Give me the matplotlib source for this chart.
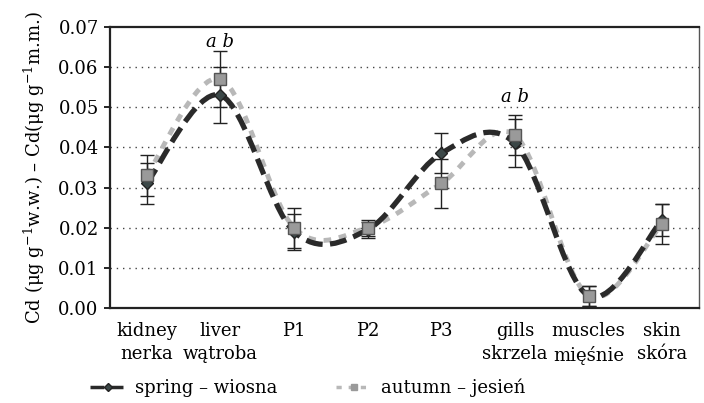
import matplotlib
matplotlib.use("Agg")
import matplotlib.pyplot as plt
from matplotlib.path import Path
from matplotlib.patches import PathPatch
from matplotlib.lines import Line2D
import numpy as np

plt.rcParams["font.family"] = ["DejaVu Serif"]
plt.rcParams["mathtext.fontset"] = "dejavuserif"

categories = ["kidney\nnerka", "liver\nwątroba", "P1", "P2", "P3",
              "gills\nskrzela", "muscles\nmięśnie", "skin\nskóra"]
spring = [0.031, 0.053, 0.019, 0.0195, 0.0385, 0.041, 0.003, 0.022]
spring_err = [0.005, 0.007, 0.0045, 0.002, 0.005, 0.006, 0.0025, 0.004]
autumn = [0.033, 0.057, 0.020, 0.020, 0.031, 0.043, 0.003, 0.021]
autumn_err = [0.005, 0.007, 0.005, 0.002, 0.006, 0.005, 0.0025, 0.005]
annot_idx = [1, 5]
annot_y = [0.0663, 0.0525]


def smooth_path(x, y):
    """Excel-like smoothed line as cubic Bezier segments."""
    pts = np.column_stack([x, y]).astype(float)
    n = len(pts)
    verts = [pts[0]]
    codes = [Path.MOVETO]
    for i in range(n - 1):
        p_prev = pts[i - 1] if i > 0 else pts[i]
        p_next2 = pts[i + 2] if i + 2 < n else pts[i + 1]
        c1 = pts[i] + (pts[i + 1] - p_prev) / 6.0
        c2 = pts[i + 1] - (p_next2 - pts[i]) / 6.0
        verts += [c1, c2, pts[i + 1]]
        codes += [Path.CURVE4] * 3
    return Path(verts, codes)


x = np.arange(len(categories))
fig = plt.figure(figsize=(7.04, 4.03), dpi=100)
ax = fig.add_axes([0.156, 0.236, 0.837, 0.697])

for yv in np.arange(0.01, 0.065, 0.01):
    ax.axhline(yv, color="#444444", linestyle=(0, (1, 3.5)), linewidth=1.0, zorder=0)

spring_color = "#2a2a2a"
autumn_color = "#b8b8b8"

ax.add_patch(PathPatch(smooth_path(x, autumn), fill=False, edgecolor=autumn_color,
                       linewidth=3.5, linestyle=(0, (1.6, 1.6)), zorder=2))
ax.add_patch(PathPatch(smooth_path(x, spring), fill=False, edgecolor=spring_color,
                       linewidth=3.8, linestyle=(0, (3.2, 1.4)), zorder=3))

ax.errorbar(x, spring, yerr=spring_err, fmt="none", ecolor="#222222",
            elinewidth=1.0, capsize=5, capthick=1.0, zorder=4)
ax.errorbar(x, autumn, yerr=autumn_err, fmt="none", ecolor="#222222",
            elinewidth=1.0, capsize=5, capthick=1.0, zorder=4)
ax.plot(x, spring, linestyle="none", marker="D", markersize=6.5,
        markerfacecolor="#3b4747", markeredgecolor="#222222", zorder=5)
ax.plot(x, autumn, linestyle="none", marker="s", markersize=8,
        markerfacecolor="#9a9a9a", markeredgecolor="#555555", zorder=6)

for i, yv in zip(annot_idx, annot_y):
    ax.text(x[i], yv, "a b", style="italic", fontsize=13, ha="center", va="center")

ax.set_xlim(-0.5, len(categories) - 0.5)
ax.set_ylim(0, 0.07)
ax.set_yticks(np.arange(0, 0.071, 0.01))
ax.set_yticklabels([f"{v:.2f}" for v in np.arange(0, 0.071, 0.01)], fontsize=13)
ax.set_xticks(x)
ax.set_xticklabels(categories, fontsize=13, linespacing=1.4, va="top")
ax.tick_params(axis="x", length=0, pad=10)
ax.tick_params(axis="y", length=4, width=1.2, direction="out", pad=4)
for side in ["left", "bottom", "top", "right"]:
    ax.spines[side].set_linewidth(1.6)
    ax.spines[side].set_color("#222222")
ax.spines["right"].set_color("#555555")
ax.spines["right"].set_linewidth(1.0)

ax.set_ylabel(r"Cd (μg g$^{-1}$w.w.) – Cd(μg g$^{-1}$m.m.)", fontsize=13, labelpad=8)

spring_handle = Line2D([], [], color=spring_color, linewidth=2.5, linestyle=(0, (4, 1.5)),
                       marker="D", markersize=4, markerfacecolor="#3b4747",
                       markeredgecolor="#222222")
autumn_handle = Line2D([], [], color=autumn_color, linewidth=2.5, linestyle=(0, (1.5, 2)),
                       marker="s", markersize=5, markerfacecolor="#9a9a9a",
                       markeredgecolor="#9a9a9a")
leg_kw = dict(loc="center left", frameon=False, fontsize=13, handlelength=2.0,
              handletextpad=0.5, borderpad=0, borderaxespad=0)
fig.legend([spring_handle], ["spring – wiosna"], bbox_to_anchor=(0.128, 0.037), **leg_kw)
fig.legend([autumn_handle], ["autumn – jesień"], bbox_to_anchor=(0.477, 0.037), **leg_kw)

fig.savefig("out.png", dpi=100)
